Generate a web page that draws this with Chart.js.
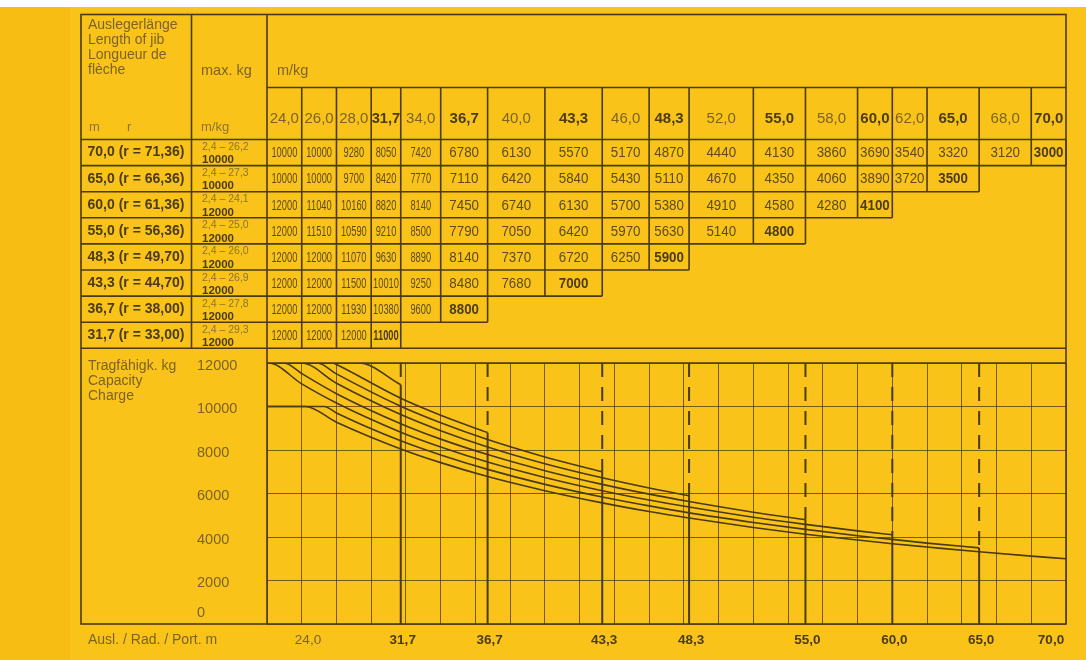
<!DOCTYPE html>
<html>
<head>
<meta charset="utf-8">
<title>Tragfähigkeit</title>
<script src="https://cdn.jsdelivr.net/npm/chart.js@4.4.0/dist/chart.umd.min.js"></script>
<style>
	html, body { margin: 0; padding: 0; background: #fff; }
	#wrap { position: relative; width: 1086px; height: 660px; }
</style>
</head>
<body>
<div id="wrap"><canvas id="chart-capacity"></canvas></div>
<script>
// table columns (radius in m) and their cell edges in m
const radii = [24.0, 26.0, 28.0, 31.7, 34.0, 36.7, 40.0, 43.3, 46.0, 48.3, 52.0, 55.0, 58.0, 60.0, 62.0, 65.0, 68.0, 70.0];
const colEdges = [24, 26, 28, 30, 31.7, 34, 36.7, 40, 43.3, 46, 48.3, 52, 55, 58, 60, 62, 65, 68, 70];
const boldRadii = [31.7, 36.7, 43.3, 48.3, 55.0, 60.0, 65.0, 70.0];

// jib lengths
const jibLengths = [70.0, 65.0, 60.0, 55.0, 48.3, 43.3, 36.7, 31.7];
const jibRadius = ['71,36', '66,36', '61,36', '56,36', '49,70', '44,70', '38,00', '33,00'];
const maxRangeStart = 2.4;
const maxRangeEnd = [26.2, 27.3, 24.1, 25.0, 26.0, 26.9, 27.8, 29.3];
const maxKg = [10000, 10000, 12000, 12000, 12000, 12000, 12000, 12000];

// capacity kg per radius column
const load70 = [10000, 10000, 9280, 8050, 7420, 6780, 6130, 5570, 5170, 4870, 4440, 4130, 3860, 3690, 3540, 3320, 3120, 3000];
const load65 = [10000, 10000, 9700, 8420, 7770, 7110, 6420, 5840, 5430, 5110, 4670, 4350, 4060, 3890, 3720, 3500];
const load60 = [12000, 11040, 10160, 8820, 8140, 7450, 6740, 6130, 5700, 5380, 4910, 4580, 4280, 4100];
const load55 = [12000, 11510, 10590, 9210, 8500, 7790, 7050, 6420, 5970, 5630, 5140, 4800];
const load48 = [12000, 12000, 11070, 9630, 8890, 8140, 7370, 6720, 6250, 5900];
const load43 = [12000, 12000, 11500, 10010, 9250, 8480, 7680, 7000];
const load36 = [12000, 12000, 11930, 10380, 9600, 8800];
const load31 = [12000, 12000, 12000, 11000];
const loads = [load70, load65, load60, load55, load48, load43, load36, load31];

const xTickLabels = [24.0, 31.7, 36.7, 43.3, 48.3, 55.0, 60.0, 65.0, 70.0];

const LINE = '#4a3a15';
const GRID = 'rgba(86, 66, 22, 0.8)';
const TEXT_DARK = '#4b3c17';
const TEXT_VAL = '#5d4b1f';
const TEXT_MID = '#7b6327';
const TEXT_LIGHT = '#8d7431';
const FONT = '"Liberation Sans", Arial, sans-serif';

function fmt(v, d) {
	return v.toFixed(d).replace('.', ',');
}

function curvePoints(i) {
	const pts = [];
	const end = maxRangeEnd[i];
	loads[i].forEach((v, j) => {
		if (radii[j] <= end) pts.push({ x: radii[j], y: v });
	});
	pts.push({ x: end, y: maxKg[i] });
	loads[i].forEach((v, j) => {
		if (radii[j] > end) pts.push({ x: radii[j], y: v });
	});
	return pts;
}

const datasets = [];
jibLengths.forEach((L, i) => {
	datasets.push({
		label: fmt(L, 1) + ' m',
		data: curvePoints(i),
		borderColor: LINE,
		borderWidth: 1.6,
		pointRadius: 0,
		cubicInterpolationMode: 'monotone'
	});
	if (L < 70) {
		const endLoad = loads[i][loads[i].length - 1];
		datasets.push({
			label: 'jib ' + fmt(L, 1),
			data: [{ x: L, y: 0 }, { x: L, y: endLoad }],
			borderColor: LINE,
			borderWidth: 2,
			pointRadius: 0
		});
		datasets.push({
			label: 'jib dash ' + fmt(L, 1),
			data: [{ x: L, y: 12000 }, { x: L, y: endLoad }],
			borderColor: LINE,
			borderWidth: 2,
			borderDash: [14, 10],
			pointRadius: 0
		});
	}
});

// text squeezed horizontally like the condensed print face
function condText(ctx, text, x, y, sx, maxW) {
	const w = ctx.measureText(text).width;
	if (maxW && w * sx > maxW) sx = maxW / w;
	ctx.save();
	ctx.translate(x, y);
	ctx.scale(sx, 1);
	ctx.fillText(text, 0, 0);
	ctx.restore();
}

const FRAME_L = 81, FRAME_T = 14.5, DIV1 = 191.5, HEAD_LINE = 87.5, ROW_TOP = 139.5, ROW_H = 26.1;
const TABLE_BOT = ROW_TOP + ROW_H * jibLengths.length;

const tablePlugin = {
	id: 'tablePlugin',
	beforeDraw(chart) {
		const { ctx, width, height } = chart;
		ctx.save();
		ctx.fillStyle = '#ffffff';
		ctx.fillRect(0, 0, width, height);
		ctx.fillStyle = '#f8bd13';
		ctx.fillRect(0, 7, 70, height - 7);
		ctx.fillStyle = '#fac319';
		ctx.fillRect(70, 7, width - 70, height - 7);
		ctx.restore();
	},
	afterDraw(chart) {
		const { ctx, chartArea: a } = chart;
		const xs = chart.scales.x, ys = chart.scales.y;
		const px = v => xs.getPixelForValue(v);
		const line = (x1, y1, x2, y2) => {
			ctx.beginPath();
			ctx.moveTo(x1, y1);
			ctx.lineTo(x2, y2);
			ctx.stroke();
		};

		ctx.save();
		ctx.strokeStyle = LINE;
		ctx.lineWidth = 1.6;
		ctx.strokeRect(FRAME_L, FRAME_T, a.right - FRAME_L, a.bottom - FRAME_T);
		line(DIV1, FRAME_T, DIV1, TABLE_BOT);
		line(a.left, FRAME_T, a.left, a.bottom);
		line(a.left, HEAD_LINE, a.right, HEAD_LINE);
		line(FRAME_L, ROW_TOP, a.right, ROW_TOP);
		line(FRAME_L, TABLE_BOT, a.right, TABLE_BOT);
		line(a.left, a.top, a.right, a.top);
		colEdges.slice(1, -1).forEach(e => line(px(e), HEAD_LINE, px(e), ROW_TOP));

		// header texts
		ctx.textBaseline = 'alphabetic';
		ctx.textAlign = 'left';
		ctx.fillStyle = TEXT_MID;
		ctx.font = '14px ' + FONT;
		['Auslegerlänge', 'Length of jib', 'Longueur de', 'flèche'].forEach((t, k) => {
			ctx.fillText(t, 88, 28.5 + 15 * k);
		});
		ctx.font = '14.5px ' + FONT;
		ctx.fillText('max. kg', 201, 75);
		ctx.fillText('m/kg', 277, 75);
		ctx.font = '13px ' + FONT;
		ctx.fillStyle = TEXT_LIGHT;
		ctx.fillText('m', 89, 131);
		ctx.fillText('r', 127, 131);
		ctx.fillText('m/kg', 201, 131);

		// column headings
		radii.forEach((r, j) => {
			const l = px(colEdges[j]), rr = px(colEdges[j + 1]);
			const bold = boldRadii.includes(r);
			ctx.font = (bold ? 'bold ' : '') + '15px ' + FONT;
			ctx.fillStyle = bold ? TEXT_DARK : TEXT_MID;
			ctx.textAlign = 'center';
			ctx.fillText(fmt(r, 1), (l + rr) / 2, 123, rr - l - 1);
		});

		// rows
		jibLengths.forEach((L, i) => {
			const top = ROW_TOP + i * ROW_H, bot = top + ROW_H;
			const n = loads[i].length;
			if (i < jibLengths.length - 1) line(FRAME_L, bot, px(colEdges[n]), bot);
			for (let j = 1; j <= n; j++) line(px(colEdges[j]), top, px(colEdges[j]), bot);

			ctx.textAlign = 'left';
			ctx.textBaseline = 'middle';
			ctx.font = 'bold 14px ' + FONT;
			ctx.fillStyle = TEXT_DARK;
			ctx.fillText(fmt(L, 1) + ' (r = ' + jibRadius[i] + ')', 87.5, top + ROW_H / 2, 97);

			ctx.textBaseline = 'alphabetic';
			ctx.font = '10.5px ' + FONT;
			ctx.fillStyle = TEXT_LIGHT;
			ctx.fillText(fmt(maxRangeStart, 1) + ' – ' + fmt(maxRangeEnd[i], 1), 202, top + 10.5);
			ctx.font = 'bold 11.5px ' + FONT;
			ctx.fillStyle = TEXT_DARK;
			ctx.fillText(String(maxKg[i]), 202, top + 23.8);

			ctx.textAlign = 'center';
			ctx.textBaseline = 'middle';
			loads[i].forEach((v, j) => {
				const l = px(colEdges[j]), rr = px(colEdges[j + 1]);
				const w = rr - l;
				const last = j === n - 1;
				ctx.font = (last ? 'bold ' : '') + '15.5px ' + FONT;
				ctx.fillStyle = last ? TEXT_DARK : TEXT_VAL;
				// first five columns are printed very narrow
				condText(ctx, String(v), (l + rr) / 2, top + ROW_H / 2 + 0.5, j < 5 ? 0.6 : 0.86, w - 3);
			});
		});

		// chart section labels
		ctx.textAlign = 'left';
		ctx.textBaseline = 'alphabetic';
		ctx.font = '14px ' + FONT;
		ctx.fillStyle = TEXT_MID;
		['Tragfähigk. kg', 'Capacity', 'Charge'].forEach((t, k) => {
			ctx.fillText(t, 88, 370 + 15 * k);
		});
		ctx.textBaseline = 'middle';
		ctx.fillText('Ausl. / Rad. / Port. m', 88, 640);

		ctx.font = '14.5px ' + FONT;
		ys.ticks.forEach(t => {
			const y = ys.getPixelForValue(t.value);
			ctx.fillText(String(t.value), 197, t.value === 0 ? y - 11 : y + 2.5);
		});

		ctx.textAlign = 'center';
		xTickLabels.forEach(v => {
			const bold = v !== 24;
			ctx.font = (bold ? 'bold ' : '') + '13.5px ' + FONT;
			ctx.fillStyle = bold ? TEXT_DARK : TEXT_MID;
			let x = px(v) + 2;
			if (v === 24) x += 39;
			if (v === 70) x -= 17;
			ctx.fillText(fmt(v, 1), x, 640);
		});
		ctx.restore();
	}
};

new Chart(document.getElementById('chart-capacity'), {
	type: 'line',
	data: { datasets },
	options: {
		responsive: true,
		maintainAspectRatio: false,
		animation: false,
		layout: { padding: { left: 197, right: 20, top: 363, bottom: 0 } },
		plugins: {
			legend: { display: false },
			tooltip: { enabled: false }
		},
		scales: {
			x: {
				type: 'linear',
				min: 24,
				max: 70,
				ticks: { stepSize: 2, display: false },
				grid: { color: GRID, lineWidth: 1, drawTicks: false },
				border: { display: false },
				afterFit: s => { s.height = 36; }
			},
			y: {
				min: 0,
				max: 12000,
				ticks: { stepSize: 2000, display: false },
				grid: { color: GRID, lineWidth: 1, drawTicks: false },
				border: { display: false },
				afterFit: s => { s.width = 70; }
			}
		}
	},
	plugins: [tablePlugin]
});
</script>
</body>
</html>
